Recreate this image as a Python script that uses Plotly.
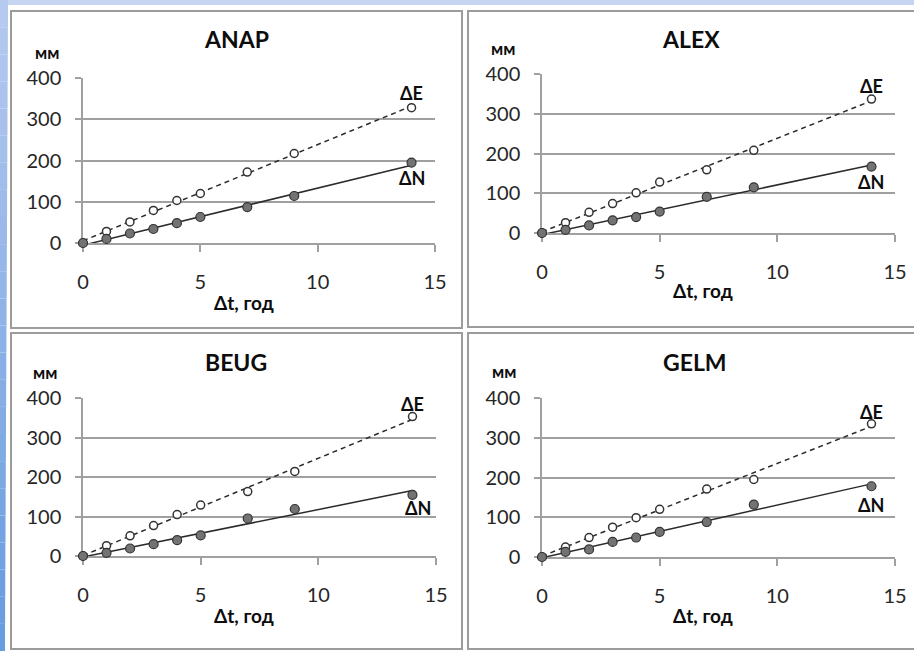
import numpy as np
import plotly.graph_objects as go

W, H = 914, 651

# ---------------- data ----------------
dt = [0, 1, 2, 3, 4, 5, 7, 9, 14]
stations = ["ANAP", "ALEX", "BEUG", "GELM"]
dE_anap = [0, 28, 51, 79, 103, 120, 172, 217, 328]
dN_anap = [0, 10, 23, 34, 48, 63, 87, 114, 195]
dE_alex = [0, 26, 52, 74, 101, 128, 159, 208, 337]
dN_alex = [0, 8, 19, 32, 40, 54, 91, 115, 167]
dE_beug = [0, 26, 51, 77, 105, 129, 163, 214, 353]
dN_beug = [0, 8, 19, 30, 40, 52, 95, 119, 155]
dE_gelm = [0, 25, 49, 75, 99, 120, 171, 195, 335]
dN_gelm = [0, 13, 19, 38, 49, 63, 88, 132, 178]
x_ticks = [0, 5, 10, 15]
y_ticks = [0, 100, 200, 300, 400]
y_unit = "мм"
x_title = "Δt, год"
label_E = "ΔE"
label_N = "ΔN"

series = {
    "ANAP": (dE_anap, dN_anap),
    "ALEX": (dE_alex, dN_alex),
    "BEUG": (dE_beug, dN_beug),
    "GELM": (dE_gelm, dN_gelm),
}

# ---------------- layout geometry (pixels) ----------------
# plot area: x-pixel of x=0, x=15 ; y-pixel of y=0, y=400
geom = {
    "ANAP": (83, 435, 243, 78),
    "ALEX": (542, 895, 233, 74),
    "BEUG": (83, 436, 556, 398),
    "GELM": (542, 895, 557, 398),
}
title_px = {"ANAP": (236, 39), "ALEX": (691, 39), "BEUG": (236, 362), "GELM": (695, 362)}
unit_px = {"ANAP": (47, 65), "ALEX": (503, 61), "BEUG": (45, 385), "GELM": (504, 384)}
xt_px = {"ANAP": (244, 302), "ALEX": (703, 291), "BEUG": (244, 615), "GELM": (703, 615)}
lblE = {"ANAP": (14, 364), "ALEX": (14, 370), "BEUG": (14, 385), "GELM": (14, 365)}
lblN = {"ANAP": (14, 158), "ALEX": (14, 128), "BEUG": (14.25, 122), "GELM": (14, 130)}
panels_px = [(11, 11, 462, 328), (468, 11, 916, 327), (11, 333, 462, 649), (468, 333, 916, 649)]

FONT = "Lato"
GRID = "#a0a0a0"
LINE = "#2b2b2b"


def px(x):
    return x / W


def py(y):
    return 1 - y / H


fig = go.Figure()
shapes = []
annotations = []

# background decoration (blue frame of the slide)
shapes.append(dict(type="rect", xref="paper", yref="paper", x0=0, x1=1, y0=py(5), y1=1,
                   fillcolor="#c6d5f1", line=dict(width=0), layer="below"))
n = 24
c0 = np.array([0xb6, 0xc9, 0xef])
c1 = np.array([0x68, 0x9d, 0xe0])
for i in range(n):
    t = i / (n - 1)
    c = (c0 * (1 - t) + c1 * t).astype(int)
    w = 8 - 3 * t
    shapes.append(dict(type="rect", xref="paper", yref="paper", x0=0, x1=px(w),
                       y0=py(H * (i + 1) / n), y1=py(H * i / n),
                       fillcolor="rgb(%d,%d,%d)" % tuple(c), line=dict(width=0), layer="below"))

for (a, b, c, d) in panels_px:
    shapes.append(dict(type="rect", xref="paper", yref="paper", x0=px(a), x1=px(c),
                       y0=py(d), y1=py(b), line=dict(color="#9c9c9c", width=2),
                       fillcolor="rgba(0,0,0,0)", layer="below"))

for k, st in enumerate(stations):
    idx = "" if k == 0 else str(k + 1)
    xa, ya = "x" + idx, "y" + idx
    x0p, x1p, y0p, y1p = geom[st]
    dE, dN = series[st]

    # trend lines (least squares, like spreadsheet linear trendline)
    xs = np.array([dt[0], dt[-1]], dtype=float)
    for yv, dash in ((dE, "5px,4px"), (dN, "solid")):
        m, q = np.polyfit(dt, yv, 1)
        fig.add_trace(go.Scatter(x=xs, y=m * xs + q, mode="lines", xaxis=xa, yaxis=ya,
                                 line=dict(color=LINE, width=1.5, dash=dash),
                                 showlegend=False, hoverinfo="skip"))
    fig.add_trace(go.Scatter(x=dt, y=dE, mode="markers", xaxis=xa, yaxis=ya, cliponaxis=False,
                             marker=dict(size=8, color="white", line=dict(color="#333333", width=1.5)),
                             showlegend=False, name=label_E))
    fig.add_trace(go.Scatter(x=dt, y=dN, mode="markers", xaxis=xa, yaxis=ya, cliponaxis=False,
                             marker=dict(size=9, color="#737373", line=dict(color="#333333", width=1.2)),
                             showlegend=False, name=label_N))

    fig.layout["xaxis" + idx] = dict(
        domain=[px(x0p), px(x1p)], range=[0, 15], anchor=ya, tickvals=x_ticks,
        showgrid=False, zeroline=False, showline=True, linecolor=GRID, linewidth=1.5,
        ticks="outside", ticklen=7, tickcolor=GRID, tickwidth=1.5, automargin=False,
        tickfont=dict(family=FONT, size=20, color="#262626"), ticklabelstandoff=13,
        layer="below traces",
    )
    fig.layout["yaxis" + idx] = dict(
        domain=[py(y0p), py(y1p)], range=[0, 400], anchor=xa, tickvals=y_ticks,
        showgrid=True, gridcolor=GRID, gridwidth=1.5, zeroline=False,
        showline=True, linecolor=GRID, linewidth=1.5, automargin=False,
        ticks="outside", ticklen=6, tickcolor=GRID, tickwidth=1.5,
        tickfont=dict(family=FONT, size=20, color="#262626"), ticklabelstandoff=10,
        layer="below traces",
    )

    tx, ty = title_px[st]
    annotations.append(dict(text="<b>%s</b>" % st, x=px(tx), y=py(ty), xref="paper", yref="paper",
                            showarrow=False, xanchor="center", yanchor="middle",
                            font=dict(family=FONT, size=23, color="#0d0d0d")))
    ux, uy = unit_px[st]
    annotations.append(dict(text="<b>%s</b>" % y_unit, x=px(ux), y=py(uy), xref="paper", yref="paper",
                            showarrow=False, xanchor="center", yanchor="bottom",
                            font=dict(family=FONT, size=17, color="#0d0d0d")))
    ax_, ay_ = xt_px[st]
    annotations.append(dict(text="<b>%s</b>" % x_title, x=px(ax_), y=py(ay_), xref="paper", yref="paper",
                            showarrow=False, xanchor="center", yanchor="middle",
                            font=dict(family=FONT, size=19, color="#0d0d0d")))
    for (lx, ly), lab in ((lblE[st], label_E), (lblN[st], label_N)):
        annotations.append(dict(text="<b>%s</b>" % lab, x=lx, y=ly, xref=xa, yref=ya,
                                showarrow=False, xanchor="center", yanchor="middle",
                                font=dict(family=FONT, size=18, color="#0d0d0d")))

fig.update_layout(
    width=W, height=H, margin=dict(l=0, r=0, t=0, b=0, pad=0, autoexpand=False),
    paper_bgcolor="white", plot_bgcolor="white",
    shapes=shapes, annotations=annotations, showlegend=False,
)

fig.write_html(
    "out.html",
    config={"displayModeBar": False},
    post_script="document.body.style.margin='0px';document.documentElement.style.overflow='hidden';",
)
